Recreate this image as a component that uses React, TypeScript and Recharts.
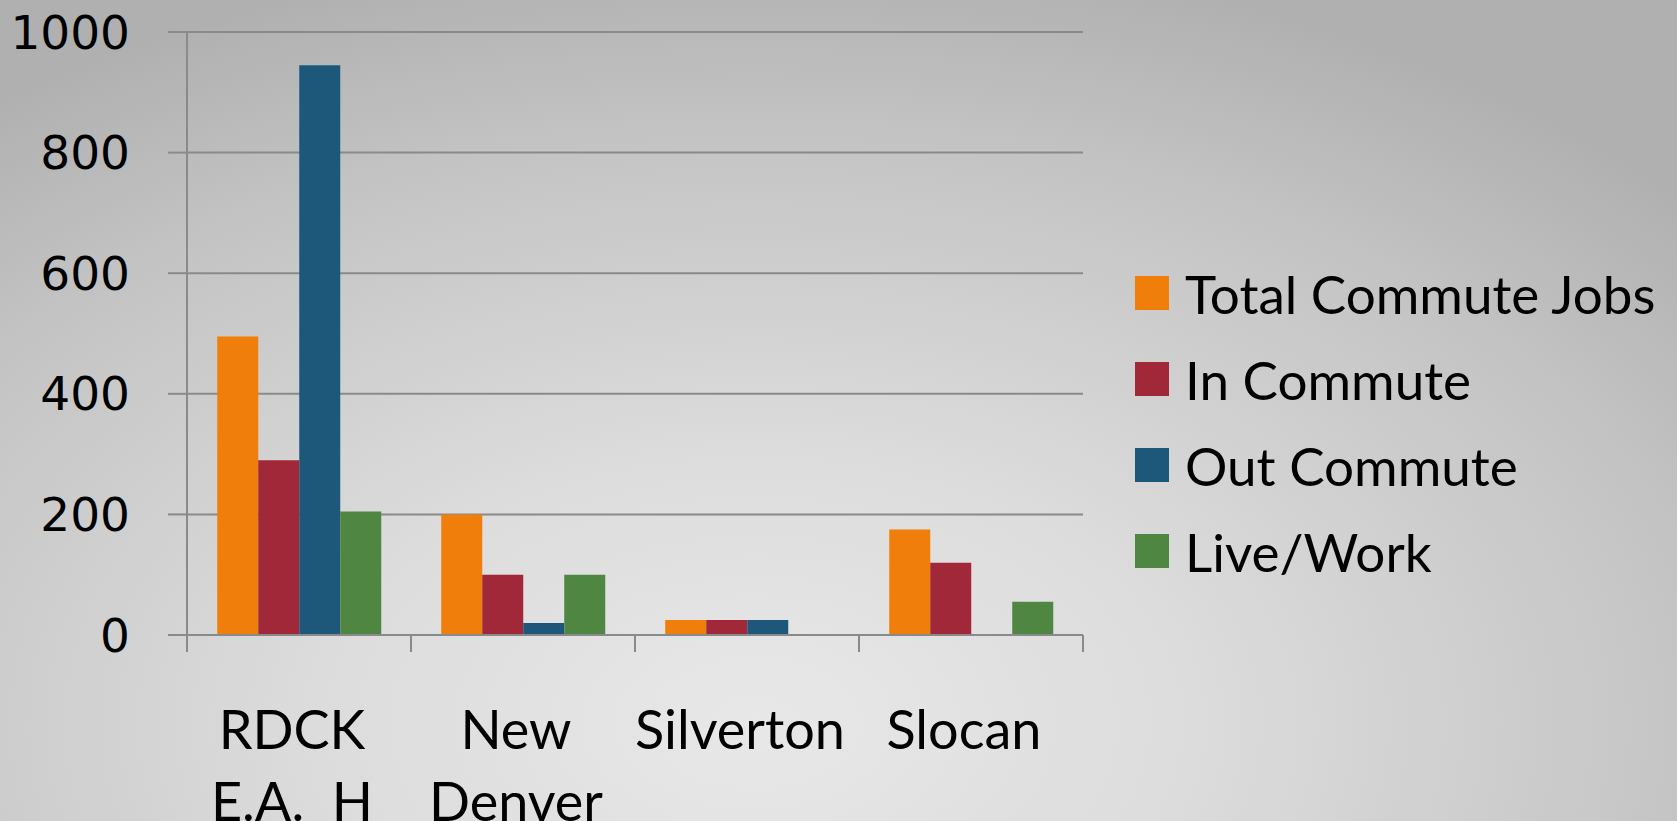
import React from 'react';
import { BarChart, Bar, XAxis, YAxis, CartesianGrid } from 'recharts';

const categories = ['RDCK\nE.A.  H', 'New\nDenver', 'Silverton', 'Slocan'];
const totalCommuteJobs = [495, 200, 25, 175];
const inCommute = [290, 100, 25, 120];
const outCommute = [945, 20, 25, 0];
const liveWork = [205, 100, 0, 55];
const yTicks = [0, 200, 400, 600, 800, 1000];

const series = [
    { key: 'total', name: 'Total Commute Jobs', color: '#EF7F0A' },
    { key: 'in', name: 'In Commute', color: '#A12838' },
    { key: 'out', name: 'Out Commute', color: '#1D587B' },
    { key: 'live', name: 'Live/Work', color: '#4F8642' },
];

const data = categories.map((c, i) => ({
    name: c,
    total: totalCommuteJobs[i],
    in: inCommute[i],
    out: outCommute[i],
    live: liveWork[i],
}));

const W = 1677;
const H = 821;
const LEFT = 187;
const RIGHT = 594;
const TOP = 32;
const BOTTOM = 186;
const band = (W - LEFT - RIGHT) / categories.length;
const grey = '#8a8a8a';
const labelFont = 'Lato, "Open Sans", sans-serif';

const XTick = (props) => {
    const { x, y, payload, index } = props;
    const lines = String(payload.value).split('\n');
    return (
        <g>
            <line x1={x - band / 2} x2={x - band / 2} y1={y} y2={y + 17} stroke={grey} strokeWidth={2} />
            {index === categories.length - 1 && (
                <line x1={x + band / 2} x2={x + band / 2} y1={y} y2={y + 17} stroke={grey} strokeWidth={2} />
            )}
            <text x={x - 7} y={y} textAnchor="middle" fill="#000" fontFamily={labelFont} fontSize={54}>
                {lines.map((l, i) => (
                    <tspan key={i} x={x - 7} y={y + 114 + i * 72} style={{ whiteSpace: 'pre' }}>{l}</tspan>
                ))}
            </text>
        </g>
    );
};

const LegendBox = () => (
    <div
        style={{
            position: 'absolute',
            left: 1135,
            top: 250,
            fontFamily: labelFont,
            fontSize: 53,
            color: '#000',
        }}
    >
        {series.map((s) => (
            <div key={s.key} style={{ display: 'flex', alignItems: 'center', height: 86 }}>
                <div style={{ width: 34, height: 34, background: s.color, marginRight: 16 }} />
                <span style={{ whiteSpace: 'pre' }}>{s.name}</span>
            </div>
        ))}
    </div>
);

export default function App() {
    return (
        <div
            style={{
                position: 'absolute',
                left: 0,
                top: 0,
                width: W,
                height: H,
                background: 'radial-gradient(ellipse 75% 95% at 45% 88%, #e8e8e8 0%, #dcdcdc 35%, #c4c4c4 75%, #b0b0b0 100%)',
                overflow: 'hidden',
            }}
        >
            <BarChart
                width={W}
                height={H}
                data={data}
                margin={{ top: TOP, right: RIGHT, left: 0, bottom: 0 }}
                barCategoryGap="13.5%"
                barGap={0}
            >
                <CartesianGrid vertical={false} stroke={grey} strokeWidth={2} />
                <XAxis
                    dataKey="name"
                    interval={0}
                    height={BOTTOM}
                    tickLine={false}
                    tickSize={0}
                    tickMargin={0}
                    axisLine={{ stroke: grey, strokeWidth: 2 }}
                    tick={<XTick />}
                />
                <YAxis
                    width={LEFT}
                    domain={[0, 1000]}
                    ticks={yTicks}
                    interval={0}
                    tickSize={19}
                    tickMargin={38}
                    axisLine={{ stroke: grey, strokeWidth: 2 }}
                    tickLine={{ stroke: grey, strokeWidth: 2 }}
                    tick={{ fill: '#000', fontSize: 47, fontFamily: '"DejaVu Sans", Verdana, sans-serif' }}
                />
                {series.map((s) => (
                    <Bar key={s.key} dataKey={s.key} name={s.name} fill={s.color} isAnimationActive={false} />
                ))}
            </BarChart>
            <LegendBox />
        </div>
    );
}
